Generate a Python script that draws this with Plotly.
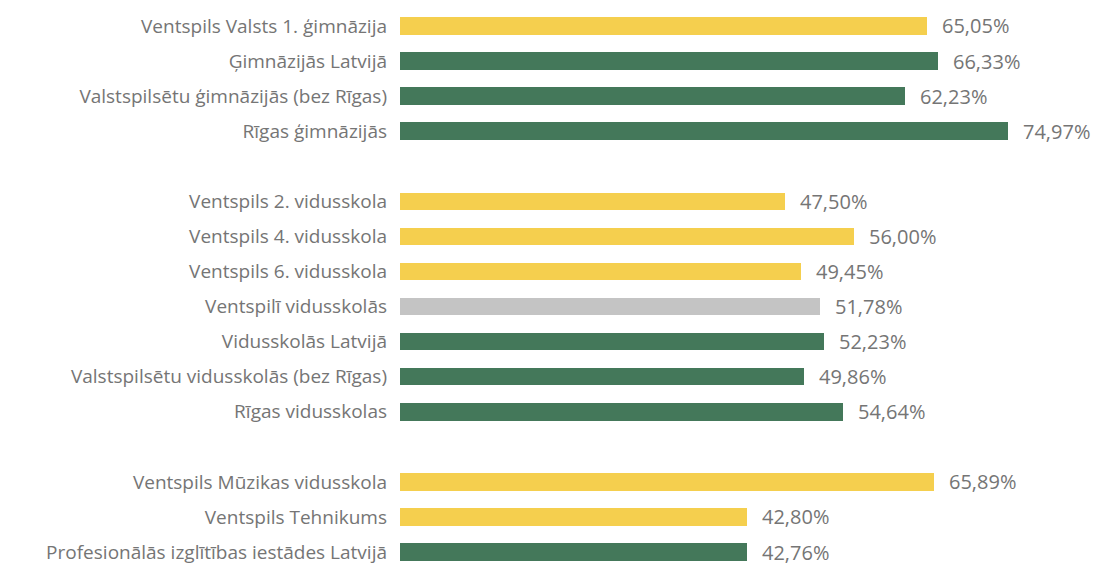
import plotly.graph_objects as go

categories = [
    "Ventspils Valsts 1. ģimnāzija",
    "Ģimnāzijās Latvijā",
    "Valstspilsētu ģimnāzijās (bez Rīgas)",
    "Rīgas ģimnāzijās",
    "",
    "Ventspils 2. vidusskola",
    "Ventspils 4. vidusskola",
    "Ventspils 6. vidusskola",
    "Ventspilī vidusskolās",
    "Vidusskolās Latvijā",
    "Valstspilsētu vidusskolās (bez Rīgas)",
    "Rīgas vidusskolas",
    "",
    "Ventspils Mūzikas vidusskola",
    "Ventspils Tehnikums",
    "Profesionālās izglītības iestādes Latvijā",
]
values = [65.05, 66.33, 62.23, 74.97, None,
          47.50, 56.00, 49.45, 51.78, 52.23, 49.86, 54.64, None,
          65.89, 42.80, 42.76]
kinds = ["ventspils", "benchmark", "benchmark", "benchmark", None,
         "ventspils", "ventspils", "ventspils", "average", "benchmark", "benchmark", "benchmark", None,
         "ventspils", "ventspils", "benchmark"]

color_map = {"ventspils": "#F5CF4E", "benchmark": "#44785A", "average": "#C4C4C4", None: "rgba(0,0,0,0)"}

FONT = "Open Sans"
TXT = "#757575"

ys = list(range(len(categories)))
xs = [v if v is not None else 0 for v in values]
colors = [color_map[k] for k in kinds]

fig = go.Figure(go.Bar(
    x=xs, y=ys, orientation="h",
    marker=dict(color=colors, line=dict(width=0)),
    width=0.5,
    hoverinfo="skip",
))

for y, v in zip(ys, values):
    if v is None:
        continue
    fig.add_annotation(
        x=v, y=y, xref="x", yref="y",
        text=f"{v:.2f}".replace(".", ",") + "%",
        showarrow=False, xanchor="left", yanchor="middle", xshift=13,
        font=dict(family=FONT, size=20, color=TXT),
    )

fig.update_layout(
    width=1091, height=557,
    margin=dict(l=392, r=0, t=0, b=0, autoexpand=False),
    paper_bgcolor="white", plot_bgcolor="white",
    showlegend=False,
    font=dict(family=FONT, size=19, color=TXT),
    xaxis=dict(range=[0, 86.2], visible=False),
    yaxis=dict(
        range=[15.37, -0.513],
        tickmode="array", tickvals=ys, ticktext=categories,
        showgrid=False, zeroline=False, showline=False,
        ticks="", ticklabelstandoff=12, automargin=False,
        tickfont=dict(family=FONT, size=19, color=TXT),
    ),
    bargap=0,
)

fig.write_html("out.html")
